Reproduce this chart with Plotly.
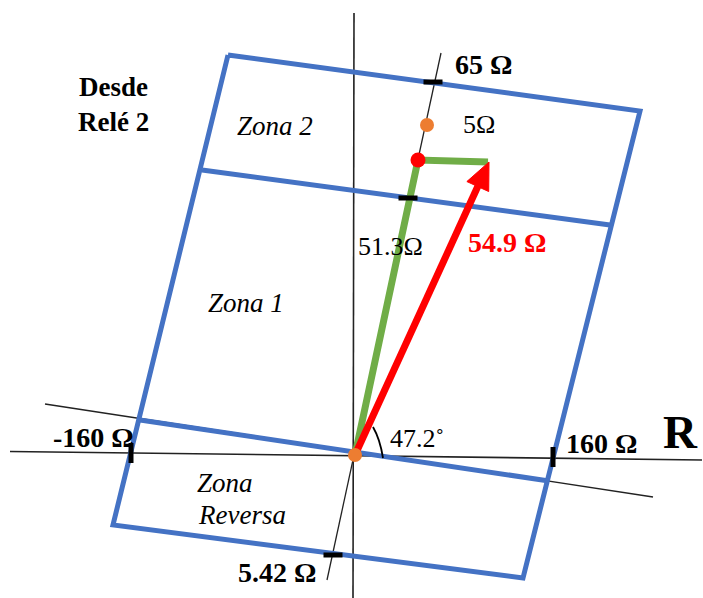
import plotly.graph_objects as go
import math

# ---- Diagram data (R-X plane sketch, origin at relay location) ----
# thin reference lines
axis_h_x = [-345, 347]
axis_h_y = [3.5, -5]
axis_v_x = [-1, -2]
axis_v_y = [442, -143]
rot_h_x = [-310, 298]
rot_h_y = [51, -42]
rot_v_x = [-28, 86]
rot_v_y = [-125, 402]

# zone characteristic (blue)
zone_outer_x = [-127, 285, 168, -242, -127]
zone_outer_y = [400, 344, -123, -70, 400]
zone12_x = [-153, 255]
zone12_y = [285, 230]
zonerev_x = [-215, 194]
zonerev_y = [35, -26]

# green impedance path (line + fault resistance)
green_x = [0, 63, 133]
green_y = [0, 295, 293]

# red apparent impedance arrow
arrow_x = [0, 134]
arrow_y = [0, 293]

# points
orange_x = [0, 72]
orange_y = [0, 330]
reddot_x = [63]
reddot_y = [295]

# tick marks: (x, y, orientation)
ticks = [(78, 373, "h"), (53, 257, "h"), (-22, -100, "h"), (-224, 2, "v"), (198, -2, "v")]

# angle arc
arc_path = "M 18 28 Q 25 16 28 -3"

# labels: (text, x, y, size, bold, italic, color)
labels = [
    ("Desde", -242, 368, 27, True, False, "black"),
    ("Relé 2", -242, 333, 27, True, False, "black"),
    ("Zona 2", -80, 329, 27, False, True, "black"),
    ("Zona 1", -109, 152, 27, False, True, "black"),
    ("Zona", -130, -28, 27, False, True, "black"),
    ("Reversa", -113, -60, 27, False, True, "black"),
    ("65 Ω", 128, 391, 28, True, False, "black"),
    ("5Ω", 124, 331, 26, False, False, "black"),
    ("51.3Ω", 35, 209, 26, False, False, "black"),
    ("54.9 Ω", 152, 213, 28, True, False, "red"),
    ("47.2˚", 62, 17, 26, False, False, "black"),
    ("160 Ω", 246, 12, 28, True, False, "black"),
    ("R", 325, 23, 47, True, False, "black"),
    ("-160 Ω", -262, 18, 28, True, False, "black"),
    ("5.42 Ω", -78, -117, 28, True, False, "black"),
]

BLUE = "#4472C4"
GREEN = "#70AD47"
RED = "#FF0000"
ORANGE = "#ED7D31"
FONT = "Liberation Serif"

fig = go.Figure()

def line(x, y, color, width):
    fig.add_trace(go.Scatter(x=x, y=y, mode="lines", line=dict(color=color, width=width),
                             hoverinfo="skip", showlegend=False))

# thin lines
line(axis_h_x, axis_h_y, "#222222", 1.6)
line(axis_v_x, axis_v_y, "#222222", 1.6)
line(rot_h_x, rot_h_y, "#222222", 1.3)
line(rot_v_x, rot_v_y, "#222222", 1.3)

# zones
line(zone_outer_x, zone_outer_y, BLUE, 5)
line(zone12_x, zone12_y, BLUE, 5)
line(zonerev_x, zonerev_y, BLUE, 5)

# green path
line(green_x, green_y, GREEN, 7)

# red arrow: shaft + head computed from direction
dx = arrow_x[1] - arrow_x[0]
dy = arrow_y[1] - arrow_y[0]
L = math.hypot(dx, dy)
ux, uy = dx / L, dy / L
nx, ny = -uy, ux
head_len, head_half = 27, 12
bx, by = arrow_x[1] - head_len * ux, arrow_y[1] - head_len * uy
line([arrow_x[0], bx + 3 * ux], [arrow_y[0], by + 3 * uy], RED, 7)
fig.add_trace(go.Scatter(
    x=[arrow_x[1], bx + head_half * nx, bx - head_half * nx, arrow_x[1]],
    y=[arrow_y[1], by + head_half * ny, by - head_half * ny, arrow_y[1]],
    mode="lines", fill="toself", fillcolor=RED, line=dict(color=RED, width=1),
    hoverinfo="skip", showlegend=False))

# ticks
for tx, ty, o in ticks:
    if o == "h":
        line([tx - 9.5, tx + 9.5], [ty, ty], "black", 5)
    else:
        line([tx, tx], [ty - 10, ty + 10], "black", 5)

# dots
fig.add_trace(go.Scatter(x=orange_x, y=orange_y, mode="markers",
                         marker=dict(color=ORANGE, size=14, line=dict(width=0)),
                         hoverinfo="skip", showlegend=False))
fig.add_trace(go.Scatter(x=reddot_x, y=reddot_y, mode="markers",
                         marker=dict(color=RED, size=15, line=dict(width=0)),
                         hoverinfo="skip", showlegend=False))

# angle arc
fig.add_shape(type="path", path=arc_path, xref="x", yref="y",
              line=dict(color="black", width=1.8))

for text, x, y, size, bold, italic, color in labels:
    t = text
    if bold:
        t = "<b>" + t + "</b>"
    if italic:
        t = "<i>" + t + "</i>"
    fig.add_annotation(x=x, y=y, text=t, showarrow=False, xanchor="center", yanchor="middle",
                       font=dict(family=FONT, size=size, color=color))

fig.update_layout(
    width=703, height=598,
    margin=dict(l=0, r=0, t=0, b=0),
    paper_bgcolor="white", plot_bgcolor="white",
    xaxis=dict(range=[-355, 348], visible=False, fixedrange=True),
    yaxis=dict(range=[-143, 455], visible=False, fixedrange=True),
    showlegend=False,
)

fig.write_html("out.html")
